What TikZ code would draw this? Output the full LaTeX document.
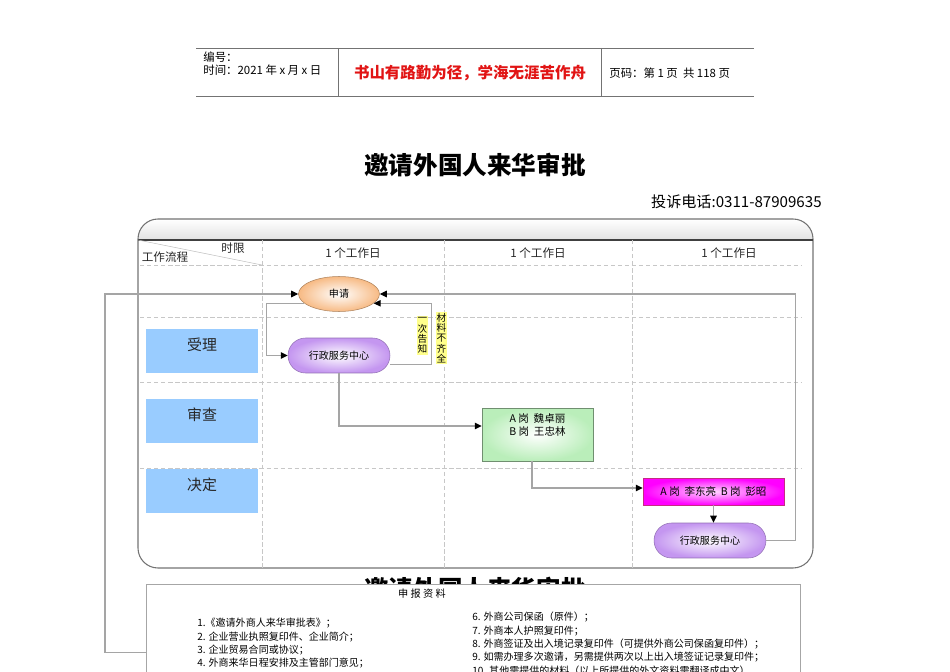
\documentclass[tikz,border=0pt]{standalone}
\usepackage{fontspec}
\setmainfont{Noto Sans CJK SC}
\usepackage{xcolor}
\usetikzlibrary{positioning,arrows.meta,shapes.geometric}

\definecolor{lanebl}{RGB}{153,204,255}
\definecolor{peach}{RGB}{247,186,132}
\definecolor{lilac}{RGB}{196,150,240}
\definecolor{mint}{RGB}{186,238,186}
\definecolor{notey}{RGB}{255,255,140}
\definecolor{linegr}{RGB}{165,165,165}
\definecolor{motto}{RGB}{225,20,20}

\begin{document}
\begin{tikzpicture}[
  x=0.02cm, y=-0.02cm,
  hdr/.style={font=\fontsize{6.5}{7.4}\selectfont, inner sep=0pt, align=left},
  ttl/.style={font=\fontsize{14}{16}\selectfont\bfseries},
  gridln/.style={draw=black!22, dash pattern=on 2.5pt off 1.5pt, line width=0.4pt},
  daylbl/.style={font=\fontsize{6.6}{8}\selectfont, text=black!85},
  lanebox/.style={rectangle, fill=lanebl, minimum width=2.24cm, minimum height=0.88cm, inner sep=0pt},
  lanetxt/.style={font=\fontsize{8.5}{10}\selectfont, inner sep=0pt, text=black!85},
  ovalbox/.style={ellipse, draw=peach!70!black, line width=0.3pt, inner color=white, outer color=peach, minimum width=1.62cm, minimum height=0.7cm, font=\fontsize{5.7}{7}\selectfont},
  pill/.style={rectangle, rounded corners=0.35cm, draw=lilac!75!black, line width=0.3pt, inner color=white, outer color=lilac, minimum height=0.7cm, font=\fontsize{5.7}{7}\selectfont},
  postbox/.style={rectangle, draw=mint!60!black, line width=0.3pt, inner color=white, outer color=mint, minimum width=2.22cm, minimum height=1.06cm},
  deskbox/.style={rectangle, draw=magenta!80!black, line width=0.3pt, inner color=magenta!15, outer color=magenta, minimum width=2.82cm, minimum height=0.54cm, font=\fontsize{6}{7}\selectfont},
  rowtxt/.style={font=\fontsize{6}{7}\selectfont, inner sep=0pt, align=center},
  notelbl/.style={fill=notey, inner sep=0.6pt, align=center, font=\fontsize{5.5}{5.9}\selectfont},
  conn/.style={draw=linegr, line width=0.6pt, -{Triangle[length=1.4mm, width=1.3mm, color=black]}},
  itemlist/.style={font=\fontsize{5.7}{7.6}\selectfont, align=left, inner sep=0pt, anchor=north west}
]
\useasboundingbox (0,0) rectangle (950,672);

% Page header
\draw[black!55, line width=0.5pt] (196,48) -- (754,48);
\draw[black!55, line width=0.5pt] (196,96) -- (754,96);
\draw[black!55, line width=0.5pt] (338,48) -- (338,96);
\draw[black!55, line width=0.5pt] (601,48) -- (601,96);
\node[hdr, anchor=north west] (docno)  at (203,51) {编号：\\时间：2021 年 x 月 x 日};
\node[font=\fontsize{8.8}{10}\selectfont\bfseries, text=motto] (motto) at (470,73) {书山有路勤为径，学海无涯苦作舟};
\node[hdr, anchor=west] (pageno) at (609,73) {页码：第 1 页\ \ 共 118 页};

% Title
\node[ttl] (title) at (475,165) {邀请外国人来华审批};
\node[font=\fontsize{8.6}{10}\selectfont, anchor=east, inner sep=0pt] (phone) at (822,202) {投诉电话:0311-87909635};

% Frame and band
\begin{scope}
  \clip (138,219) rectangle (813,240);
  \shade[top color=white, bottom color=black!22, rounded corners=0.4cm] (138,219) rectangle (813,260);
\end{scope}
\draw[black!55, line width=0.6pt, rounded corners=0.4cm] (138,219) rectangle (813,568);
\draw[black!75, line width=0.8pt] (138,240) -- (813,240);

% Grid
\draw[gridln] (262,240) -- (262,568);
\draw[gridln] (444,240) -- (444,568);
\draw[gridln] (632,240) -- (632,568);
\draw[gridln] (140,265) -- (802,265);
\draw[gridln] (140,317) -- (802,317);
\draw[gridln] (140,382) -- (802,382);
\draw[gridln] (140,468) -- (802,468);
\draw[black!25, line width=0.3pt] (138,240) -- (262,265);
\node[daylbl] (limit) at (233,248) {时限};
\node[daylbl] (flow)  at (165,257) {工作流程};
\node[daylbl] (d1) at (353,253) {1 个工作日};
\node[daylbl] (d2) at (538,253) {1 个工作日};
\node[daylbl] (d3) at (729,253) {1 个工作日};

% Lanes (left column)
\node[lanebox] (accept) at (202,351) {};
\node[lanebox] (review) at (202,421) {};
\node[lanebox] (decide) at (202,491) {};
\node[lanetxt, below=0.17cm of accept.north] (acceptlbl) {受理};
\node[lanetxt, below=0.17cm of review.north] (reviewlbl) {审查};
\node[lanetxt, below=0.17cm of decide.north] (decidelbl) {决定};

% Flow nodes
\node[ovalbox] (apply) at (339,294) {申请};
\node[pill, minimum width=2.04cm] (svc) at (339,355.5) {行政服务中心};
\node[postbox] (rev) at (537.5,434.5) {};
\node[rowtxt, below=0.12cm of rev.north] (revtxt) {A 岗\ \ 魏卓丽\\B 岗\ \ 王忠林};
\node[deskbox] (dec) at (713.5,491.5) {A 岗\ \ 李东亮\ \ B 岗\ \ 彭昭};
\node[pill, minimum width=2.24cm] (done) at (710,540.5) {行政服务中心};

% Notes
\node[notelbl] (tell) at (422.5,335.5) {一\\次\\告\\知};
\node[notelbl] (lack) at (441.5,338) {材\\料\\不\\齐\\全};

% Materials box
\node[ttl] (ghost) at (475,589) {邀请外国人来华审批};
\node[fill=white, draw=black!35, line width=0.5pt, anchor=north west, minimum width=13.08cm, minimum height=2.72cm, inner sep=0pt] (mat) at (146,584) {};
\node[font=\fontsize{5.8}{7}\selectfont] (mathead) at (422,594) {申\ 报\ 资\ 料};
\node[itemlist] (listl) at (197,618) {1.《邀请外商人来华审批表》；\\2. 企业营业执照复印件、企业简介；\\3. 企业贸易合同或协议；\\4. 外商来华日程安排及主管部门意见；};
\node[itemlist] (listr) at (472,612) {6. 外商公司保函（原件）；\\7. 外商本人护照复印件；\\8. 外商签证及出入境记录复印件（可提供外商公司保函复印件）；\\9. 如需办理多次邀请，另需提供两次以上出入境签证记录复印件；\\10. 其他需提供的材料（以上所提供的外文资料需翻译成中文）};

% Arrows
\draw[conn] (mat.west) -- ++(-41,0) |- (apply.west);
\draw[conn] (done.east) -- ++(29,0) |- (apply.east);
\draw[conn] (apply.195) -- ++(-38,0) |- (svc.west);
\draw[conn] ([yshift=-0.18cm]svc.east) -- ++(41,0) |- (apply.-15);
\draw[conn] (svc.south) |- ([yshift=0.17cm]rev.west);
\draw[conn] ([xshift=-0.11cm]rev.south) |- ([yshift=0.07cm]dec.west);
\draw[conn] (dec.south) -- (dec.south |- done.north);

\end{tikzpicture}
\end{document}
